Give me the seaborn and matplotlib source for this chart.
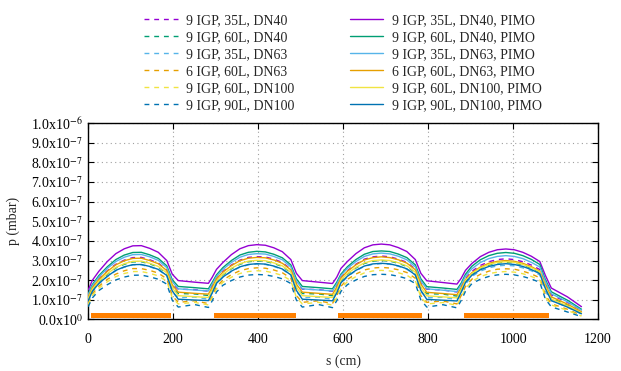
import matplotlib
matplotlib.use("Agg")
import matplotlib.pyplot as plt
import seaborn as sns
import numpy as np
import pandas as pd
from matplotlib.ticker import MultipleLocator, FuncFormatter

# ---------------- data ----------------
s_cm = [0, 10, 25, 45, 65, 85, 105, 125, 145, 165, 185, 198, 212, 250, 283,
        292, 302, 317, 337, 357, 377, 397, 417, 437, 457, 477, 490, 504, 542, 575,
        585, 595, 610, 630, 650, 670, 690, 710, 730, 750, 770, 783, 797, 835, 868,
        878, 888, 903, 923, 943, 963, 983, 1003, 1023, 1043, 1063, 1076, 1090, 1128, 1161]

# values in units of 1e-7 mbar
p_35L_DN40_PIMO = [1.50, 2.00, 2.45, 2.95, 3.35, 3.60, 3.75, 3.76, 3.62, 3.42, 3.00, 2.30, 1.98, 1.90, 1.84,
                   2.15, 2.55, 2.90, 3.30, 3.60, 3.76, 3.81, 3.78, 3.65, 3.45, 3.05, 2.35, 1.98, 1.90, 1.83,
                   2.15, 2.60, 2.95, 3.35, 3.65, 3.80, 3.84, 3.80, 3.66, 3.46, 3.05, 2.35, 1.97, 1.88, 1.80,
                   2.10, 2.50, 2.85, 3.20, 3.42, 3.55, 3.59, 3.55, 3.42, 3.22, 2.95, 2.25, 1.60, 1.15, 0.65]
p_60L_DN40_PIMO = [1.32, 1.78, 2.23, 2.68, 3.05, 3.28, 3.41, 3.42, 3.29, 3.11, 2.73, 2.02, 1.68, 1.62, 1.56,
                   1.89, 2.27, 2.64, 3.00, 3.28, 3.42, 3.47, 3.44, 3.32, 3.14, 2.78, 2.07, 1.68, 1.62, 1.56,
                   1.89, 2.31, 2.68, 3.05, 3.32, 3.46, 3.49, 3.46, 3.33, 3.15, 2.78, 2.07, 1.67, 1.60, 1.53,
                   1.85, 2.30, 2.71, 3.04, 3.25, 3.37, 3.41, 3.37, 3.25, 3.06, 2.80, 2.03, 1.41, 0.98, 0.52]
p_35L_DN63_PIMO = [1.25, 1.72, 2.16, 2.60, 2.95, 3.17, 3.30, 3.31, 3.19, 3.01, 2.64, 1.92, 1.56, 1.50, 1.45,
                   1.80, 2.19, 2.55, 2.90, 3.17, 3.31, 3.35, 3.33, 3.21, 3.04, 2.68, 1.96, 1.56, 1.50, 1.45,
                   1.80, 2.24, 2.60, 2.95, 3.21, 3.34, 3.38, 3.34, 3.22, 3.04, 2.68, 1.96, 1.56, 1.49, 1.42,
                   1.76, 2.20, 2.58, 2.90, 3.10, 3.21, 3.25, 3.21, 3.10, 2.91, 2.67, 1.94, 1.31, 0.90, 0.47]
p_6IGP_60L_DN63_PIMO = [1.15, 1.62, 2.03, 2.45, 2.78, 2.99, 3.11, 3.12, 3.00, 2.84, 2.49, 1.76, 1.39, 1.33, 1.29,
                        1.64, 2.07, 2.41, 2.74, 2.99, 3.12, 3.16, 3.14, 3.03, 2.86, 2.53, 1.80, 1.39, 1.33, 1.28,
                        1.64, 2.11, 2.45, 2.78, 3.03, 3.15, 3.19, 3.15, 3.04, 2.87, 2.53, 1.80, 1.38, 1.32, 1.26,
                        1.62, 2.03, 2.38, 2.67, 2.86, 2.96, 3.00, 2.96, 2.86, 2.69, 2.46, 1.76, 1.15, 0.78, 0.39]
p_60L_DN100_PIMO = [1.05, 1.54, 1.94, 2.33, 2.65, 2.84, 2.96, 2.97, 2.86, 2.70, 2.37, 1.61, 1.21, 1.16, 1.12,
                    1.51, 1.96, 2.29, 2.61, 2.84, 2.97, 3.01, 2.99, 2.88, 2.73, 2.41, 1.65, 1.21, 1.16, 1.12,
                    1.51, 2.00, 2.33, 2.65, 2.88, 3.00, 3.03, 3.00, 2.89, 2.73, 2.41, 1.65, 1.20, 1.15, 1.10,
                    1.51, 1.98, 2.34, 2.62, 2.80, 2.91, 2.94, 2.91, 2.80, 2.64, 2.42, 1.67, 1.04, 0.69, 0.33]
p_90L_DN100_PIMO = [0.95, 1.44, 1.83, 2.20, 2.50, 2.68, 2.79, 2.80, 2.70, 2.55, 2.24, 1.45, 1.03, 0.99, 0.96,
                    1.35, 1.84, 2.16, 2.46, 2.68, 2.80, 2.84, 2.82, 2.72, 2.57, 2.27, 1.48, 1.03, 0.99, 0.95,
                    1.35, 1.87, 2.20, 2.50, 2.72, 2.83, 2.86, 2.83, 2.73, 2.58, 2.27, 1.48, 1.02, 0.98, 0.94,
                    1.39, 1.88, 2.25, 2.53, 2.70, 2.80, 2.84, 2.80, 2.70, 2.54, 2.33, 1.58, 0.96, 0.63, 0.29]

p_35L_DN40 = [1.20, 1.64, 2.06, 2.48, 2.81, 3.02, 3.15, 3.16, 3.04, 2.87, 2.52, 1.79, 1.54, 1.52, 1.44,
              1.72, 2.09, 2.44, 2.77, 3.02, 3.16, 3.20, 3.18, 3.07, 2.90, 2.56, 1.83, 1.54, 1.52, 1.43,
              1.72, 2.13, 2.48, 2.81, 3.07, 3.19, 3.23, 3.19, 3.07, 2.91, 2.56, 1.83, 1.54, 1.50, 1.40,
              1.68, 2.08, 2.45, 2.75, 2.94, 3.05, 3.09, 3.05, 2.94, 2.77, 2.54, 1.80, 1.25, 0.87, 0.47]
p_60L_DN40 = [1.06, 1.51, 1.91, 2.30, 2.62, 2.81, 2.93, 2.94, 2.83, 2.67, 2.34, 1.58, 1.32, 1.30, 1.22,
              1.52, 1.93, 2.26, 2.58, 2.81, 2.94, 2.98, 2.96, 2.85, 2.70, 2.38, 1.62, 1.32, 1.30, 1.21,
              1.52, 1.97, 2.30, 2.62, 2.85, 2.97, 3.00, 2.97, 2.86, 2.70, 2.38, 1.62, 1.31, 1.29, 1.19,
              1.52, 1.92, 2.31, 2.59, 2.77, 2.88, 2.91, 2.88, 2.77, 2.61, 2.39, 1.64, 1.09, 0.73, 0.33]
p_35L_DN63 = [0.90, 1.40, 1.81, 2.18, 2.48, 2.66, 2.78, 2.78, 2.68, 2.53, 2.22, 1.38, 1.11, 1.14, 1.03,
              1.38, 1.79, 2.15, 2.44, 2.66, 2.78, 2.82, 2.80, 2.70, 2.55, 2.26, 1.41, 1.11, 1.14, 1.02,
              1.38, 1.82, 2.18, 2.48, 2.70, 2.81, 2.84, 2.81, 2.71, 2.56, 2.26, 1.41, 1.10, 1.13, 1.01,
              1.39, 1.80, 2.19, 2.46, 2.63, 2.73, 2.76, 2.73, 2.63, 2.48, 2.27, 1.44, 0.96, 0.63, 0.27]
p_6IGP_60L_DN63 = [0.83, 1.30, 1.69, 2.04, 2.31, 2.48, 2.59, 2.59, 2.50, 2.36, 2.07, 1.20, 0.87, 0.95, 0.81,
                   1.20, 1.66, 2.00, 2.28, 2.48, 2.59, 2.63, 2.61, 2.52, 2.38, 2.10, 1.22, 0.87, 0.95, 0.81,
                   1.20, 1.69, 2.04, 2.31, 2.52, 2.62, 2.65, 2.62, 2.53, 2.39, 2.10, 1.22, 0.87, 0.94, 0.79,
                   1.22, 1.68, 2.05, 2.30, 2.46, 2.56, 2.58, 2.56, 2.46, 2.32, 2.12, 1.24, 0.80, 0.52, 0.20]
p_60L_DN100 = [0.75, 1.22, 1.59, 1.92, 2.18, 2.34, 2.44, 2.44, 2.35, 2.22, 1.95, 1.10, 0.79, 0.87, 0.74,
               1.12, 1.56, 1.89, 2.15, 2.34, 2.44, 2.48, 2.46, 2.37, 2.24, 1.98, 1.13, 0.79, 0.87, 0.73,
               1.12, 1.59, 1.92, 2.18, 2.37, 2.47, 2.50, 2.47, 2.38, 2.25, 1.98, 1.13, 0.79, 0.86, 0.72,
               1.13, 1.58, 1.94, 2.18, 2.33, 2.41, 2.44, 2.41, 2.33, 2.19, 2.01, 1.13, 0.74, 0.46, 0.17]
p_90L_DN100 = [0.65, 1.10, 1.47, 1.77, 2.01, 2.16, 2.25, 2.26, 2.17, 2.05, 1.80, 0.97, 0.63, 0.76, 0.61,
               0.95, 1.40, 1.74, 1.98, 2.16, 2.26, 2.29, 2.27, 2.19, 2.07, 1.83, 0.99, 0.63, 0.76, 0.60,
               0.95, 1.43, 1.77, 2.01, 2.19, 2.28, 2.30, 2.28, 2.20, 2.08, 1.83, 0.99, 0.63, 0.75, 0.59,
               0.97, 1.43, 1.82, 2.05, 2.19, 2.27, 2.30, 2.27, 2.19, 2.06, 1.89, 1.04, 0.64, 0.38, 0.14]

labels_dashed = ["9 IGP, 35L, DN40", "9 IGP, 60L, DN40", "9 IGP, 35L, DN63",
                 "6 IGP, 60L, DN63", "9 IGP, 60L, DN100", "9 IGP, 90L, DN100"]
labels_solid = ["9 IGP, 35L, DN40, PIMO", "9 IGP, 60L, DN40, PIMO", "9 IGP, 35L, DN63, PIMO",
                "6 IGP, 60L, DN63, PIMO", "9 IGP, 60L, DN100, PIMO", "9 IGP, 90L, DN100, PIMO"]
series_dashed = [p_35L_DN40, p_60L_DN40, p_35L_DN63, p_6IGP_60L_DN63, p_60L_DN100, p_90L_DN100]
series_solid = [p_35L_DN40_PIMO, p_60L_DN40_PIMO, p_35L_DN63_PIMO, p_6IGP_60L_DN63_PIMO,
                p_60L_DN100_PIMO, p_90L_DN100_PIMO]

# magnet (orange bar) extents in cm
bar_start = [7, 295, 588, 885]
bar_end = [196, 489, 786, 1084]
bar_bottom = 0.05e-7
bar_top = 0.34e-7

# ---------------- style ----------------
colors = ["#9400d3", "#009e73", "#56b4e9", "#e69f00", "#f0e442", "#0072b2"]

sns.set_style("ticks")
plt.rcParams["font.family"] = ["Liberation Serif", "DejaVu Serif"]
plt.rcParams["mathtext.fontset"] = "stix"
plt.rcParams["font.size"] = 10

fig = plt.figure(figsize=(6.21, 3.71), dpi=100)
ax = fig.add_axes([0.142, 0.139, 0.821, 0.529])

for x0, x1 in zip(bar_start, bar_end):
    ax.bar(x0, bar_top - bar_bottom, width=x1 - x0, bottom=bar_bottom, align="edge",
           color="#ff8000", linewidth=0, zorder=2)

s_arr = np.array(s_cm, dtype=float)
for vals, lab, c in zip(series_dashed, labels_dashed, colors):
    sns.lineplot(x=s_arr, y=np.array(vals) * 1e-7, ax=ax, color=c, linewidth=1.0,
                 label=lab, zorder=3)
    ax.lines[-1].set_dashes([3.5, 3.5])
for vals, lab, c in zip(series_solid, labels_solid, colors):
    sns.lineplot(x=s_arr, y=np.array(vals) * 1e-7, ax=ax, color=c, linewidth=1.0,
                 label=lab, zorder=4)

ax.set_xlim(0, 1200)
ax.set_ylim(0, 1e-6)
ax.xaxis.set_major_locator(MultipleLocator(200))
ax.yaxis.set_major_locator(MultipleLocator(1e-7))


def yfmt(v, pos):
    if abs(v) < 1e-12:
        return r"0.0x10$^{0}$"
    e = int(np.floor(np.log10(abs(v)) + 1e-9))
    m = v / 10 ** e
    return r"%.1fx10$^{%d}$" % (m, e)


ax.yaxis.set_major_formatter(FuncFormatter(yfmt))
ax.tick_params(direction="in", top=True, right=True, length=4, width=0.8,
               labelsize=10, colors="black")
ax.tick_params(axis="y", pad=4)
ax.tick_params(axis="x", pad=10)
ax.grid(True, linestyle=(0, (1, 3)), color="#a0a0a0", linewidth=0.8)
for sp in ax.spines.values():
    sp.set_visible(True)
    sp.set_linewidth(1.0)
    sp.set_color("black")

ax.set_xlabel("s (cm)", fontsize=10, labelpad=6)
ax.set_ylabel("p (mbar)", fontsize=10, labelpad=8)

h, l = ax.get_legend_handles_labels()
ax.legend(h, l, ncol=2, loc="lower center", bbox_to_anchor=(0.5, 1.03), frameon=False,
          fontsize=10, handlelength=2.4, handletextpad=0.6, columnspacing=4.0,
          labelspacing=0.28, borderaxespad=0.0)

fig.savefig("out.png", dpi=100)
